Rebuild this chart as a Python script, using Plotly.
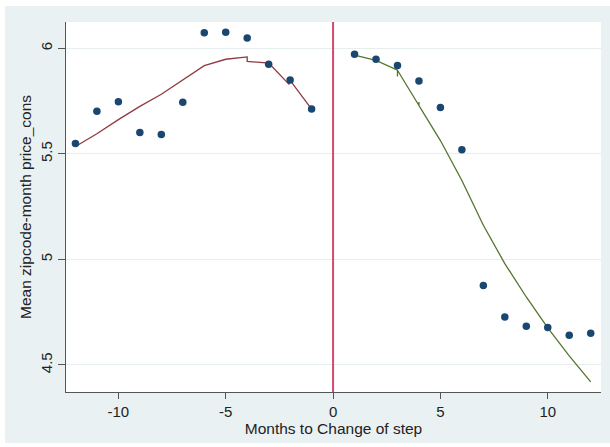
import plotly.graph_objects as go

# Scatter data: mean zipcode-month price by month relative to change
months = [-12, -11, -10, -9, -8, -7, -6, -5, -4, -3, -2, -1,
          1, 2, 3, 4, 5, 6, 7, 8, 9, 10, 11, 12]
means = [5.549, 5.702, 5.747, 5.601, 5.592, 5.744, 6.073, 6.076, 6.049, 5.924, 5.850, 5.712,
         5.972, 5.948, 5.918, 5.845, 5.720, 5.520, 4.877, 4.727, 4.684, 4.677, 4.641, 4.650]

# Fitted line before the change (with small hooks as in the original)
pre_x = [-12, -11, -10, -9, -8, -7, -6, -5, -4, -4, -3, -3, -3, -2.05, -2, -1]
pre_y = [5.535, 5.595, 5.662, 5.725, 5.782, 5.851, 5.918, 5.948, 5.959, 5.938, 5.930, 5.912, 5.930, 5.829, 5.848, 5.712]

# Fitted line after the change
post_x = [1, 2, 3, 3, 3, 4, 4, 4, 5, 6, 7, 8, 9, 10, 11, 12]
post_y = [5.968, 5.943, 5.896, 5.866, 5.896, 5.729, 5.745, 5.729, 5.563, 5.374, 5.162, 4.980, 4.822, 4.676, 4.543, 4.420]

cutoff = 0
x_ticks = [-10, -5, 0, 5, 10]
y_ticks = [4.5, 5, 5.5, 6]

NAVY = "#1A476F"
MAROON = "#913A40"
GREEN = "#55752F"
BAND = "#EAF1F3"

fig = go.Figure()
fig.add_trace(go.Scatter(x=pre_x, y=pre_y, mode="lines",
                         line=dict(color=MAROON, width=1.3), showlegend=False))
fig.add_trace(go.Scatter(x=post_x, y=post_y, mode="lines",
                         line=dict(color=GREEN, width=1.3), showlegend=False))
fig.add_trace(go.Scatter(x=months, y=means, mode="markers",
                         marker=dict(color=NAVY, size=7.5), showlegend=False))
fig.add_vline(x=cutoff, line=dict(color="#D44A70", width=2))

# white outer border strips around the light band
for (x0, x1, y0, y1) in [(-0.2, -0.114, -0.2, 1.2),
                         (-0.2, 1.2, 1.0432, 1.2),
                         (-0.2, 1.2, -0.2, -0.1378)]:
    fig.add_shape(type="rect", xref="paper", yref="paper", x0=x0, x1=x1, y0=y0, y1=y1,
                  fillcolor="white", line=dict(width=0), layer="below")

fig.update_layout(
    width=610, height=447,
    margin=dict(l=66, r=9, t=22, b=55),
    paper_bgcolor=BAND, plot_bgcolor="white",
    font=dict(family="Liberation Sans, Arial, sans-serif", size=15, color="#222"),
    xaxis=dict(range=[-12.44, 12.48], tickvals=x_ticks, ticktext=[str(v) for v in x_ticks],
               showgrid=False, zeroline=False, showline=True, linecolor="#555", linewidth=1,
               ticks="outside", ticklen=6, tickcolor="#555", tickfont=dict(size=15),
               title=dict(text="Months to Change of step", standoff=0, font=dict(size=15.5))),
    yaxis=dict(range=[4.372, 6.1245], tickvals=y_ticks, ticktext=["4.5", "5", "5.5", "6"],
               tickangle=-90, showgrid=True, gridcolor="#E6EEF0", gridwidth=1,
               zeroline=False, showline=True, linecolor="#555", linewidth=1,
               ticks="outside", ticklen=7, tickcolor="#555", tickfont=dict(size=15),
               title=dict(text="Mean zipcode-month price_cons", standoff=2, font=dict(size=15.5))),
)

fig.write_html("out.html")
